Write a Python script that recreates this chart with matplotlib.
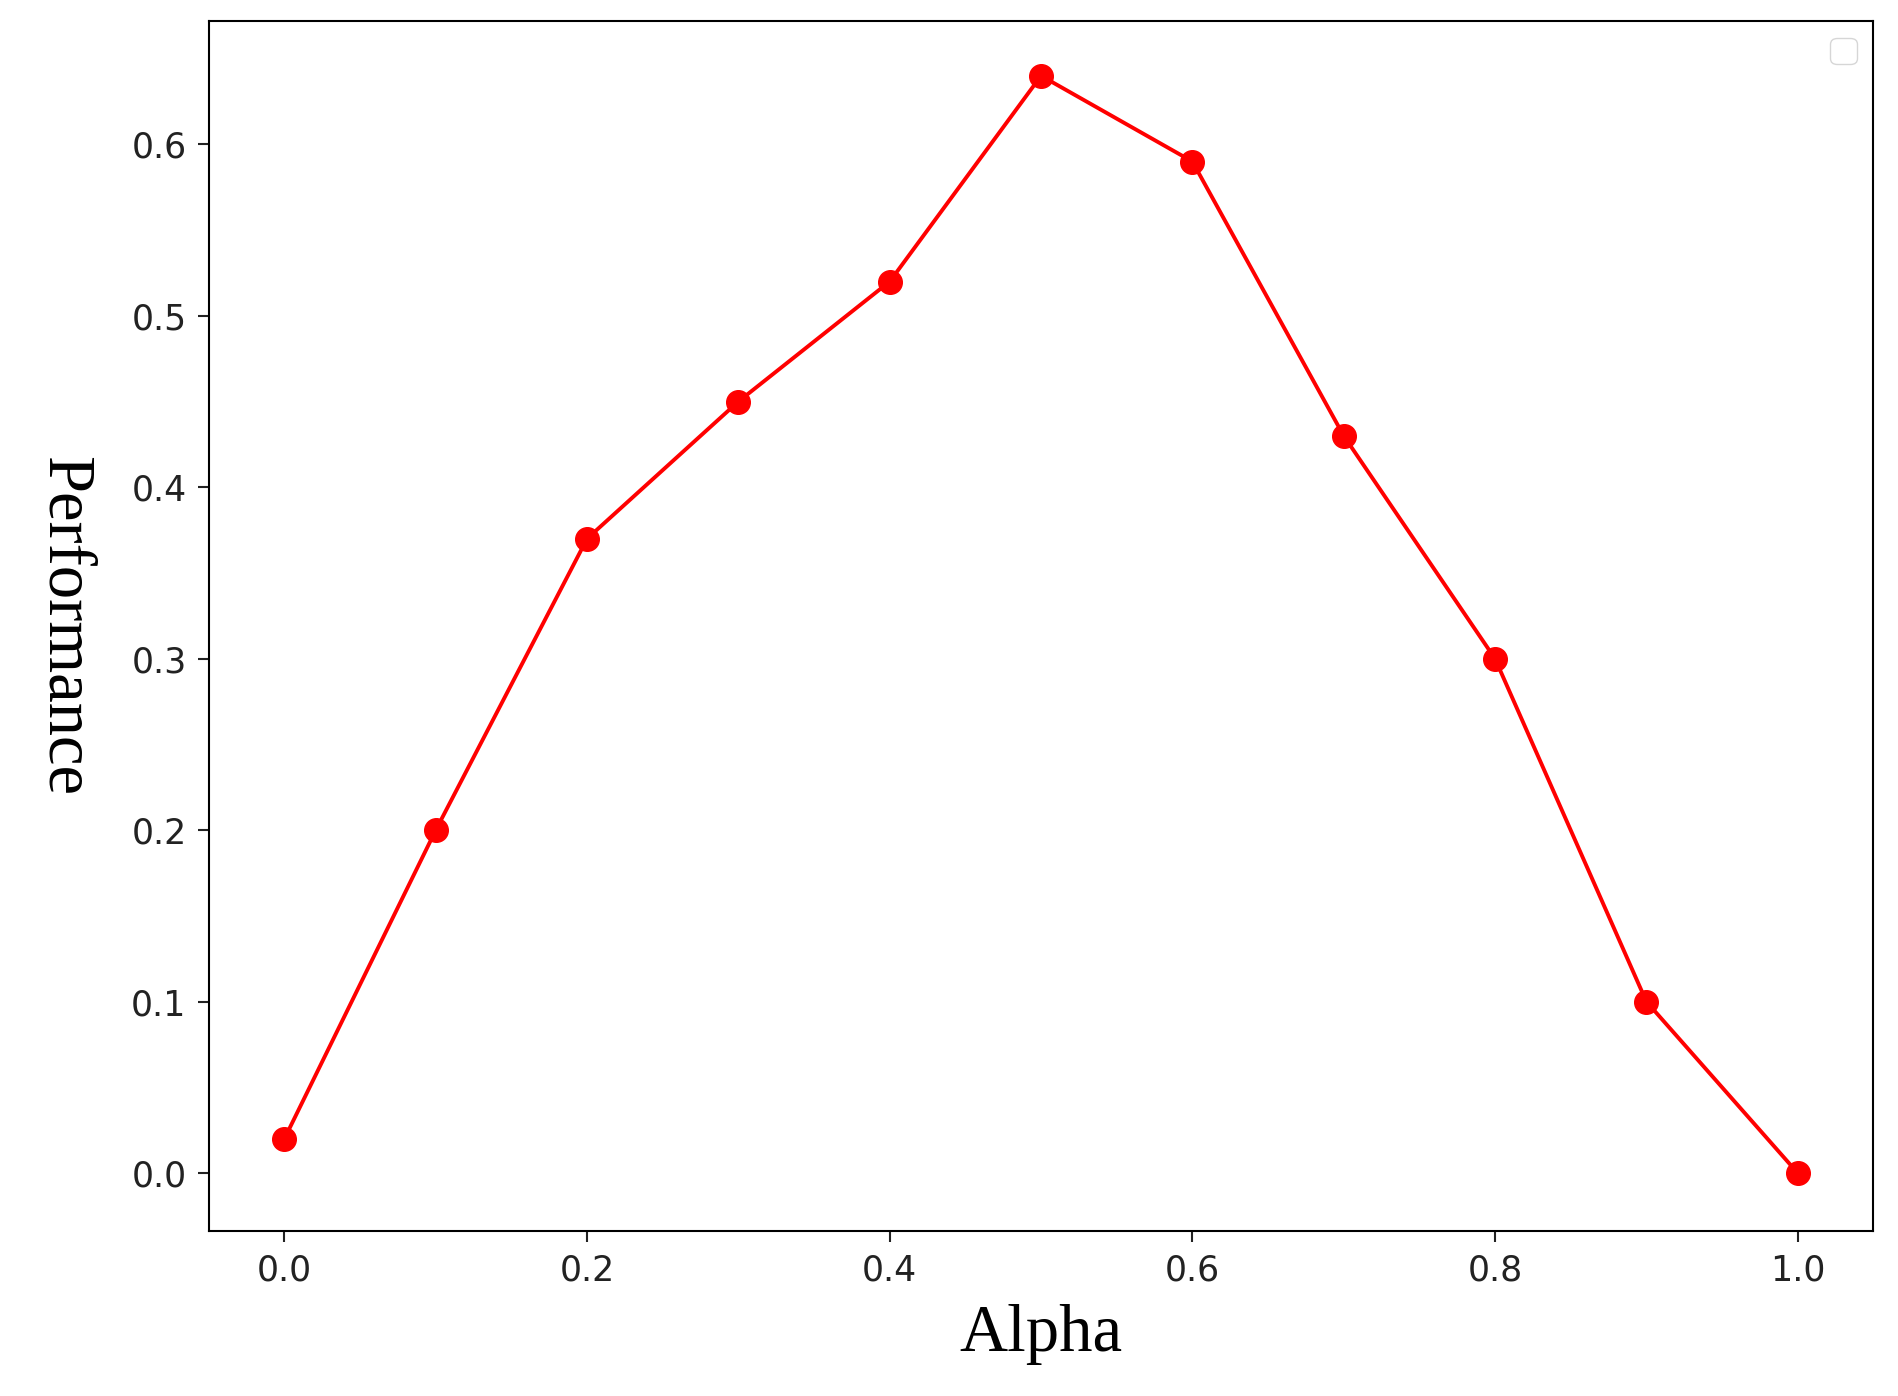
import matplotlib
matplotlib.use("Agg")
import matplotlib.pyplot as plt

alpha = [0.0, 0.1, 0.2, 0.3, 0.4, 0.5, 0.6, 0.7, 0.8, 0.9, 1.0]
performance = [0.02, 0.20, 0.37, 0.45, 0.52, 0.64, 0.59, 0.43, 0.30, 0.10, 0.0]

fig = plt.figure(figsize=(18.98, 13.96), dpi=100)
ax = fig.add_axes([0.110, 0.118, 0.877, 0.867])
ax.plot(alpha, performance, color='red', marker='o', markersize=17, linewidth=2.8)
ax.set_xlim(-0.05, 1.05)
ax.set_ylim(-0.034, 0.672)
ax.set_xticks([0.0, 0.2, 0.4, 0.6, 0.8, 1.0])
ax.set_yticks([0.0, 0.1, 0.2, 0.3, 0.4, 0.5, 0.6])
ax.tick_params(labelsize=25, length=8, width=1.5, colors='#222222', pad=8)
for s in ax.spines.values():
    s.set_linewidth(1.5)
ax.set_xlabel("Alpha", family="Liberation Serif", fontsize=48, labelpad=12)
ax.set_ylabel("Performance", family="Liberation Serif", fontsize=48, rotation=270, labelpad=70)
ax.legend(handles=[], labels=[], loc='upper right', frameon=True, fontsize=24)
fig.savefig("out.png", dpi=100)
